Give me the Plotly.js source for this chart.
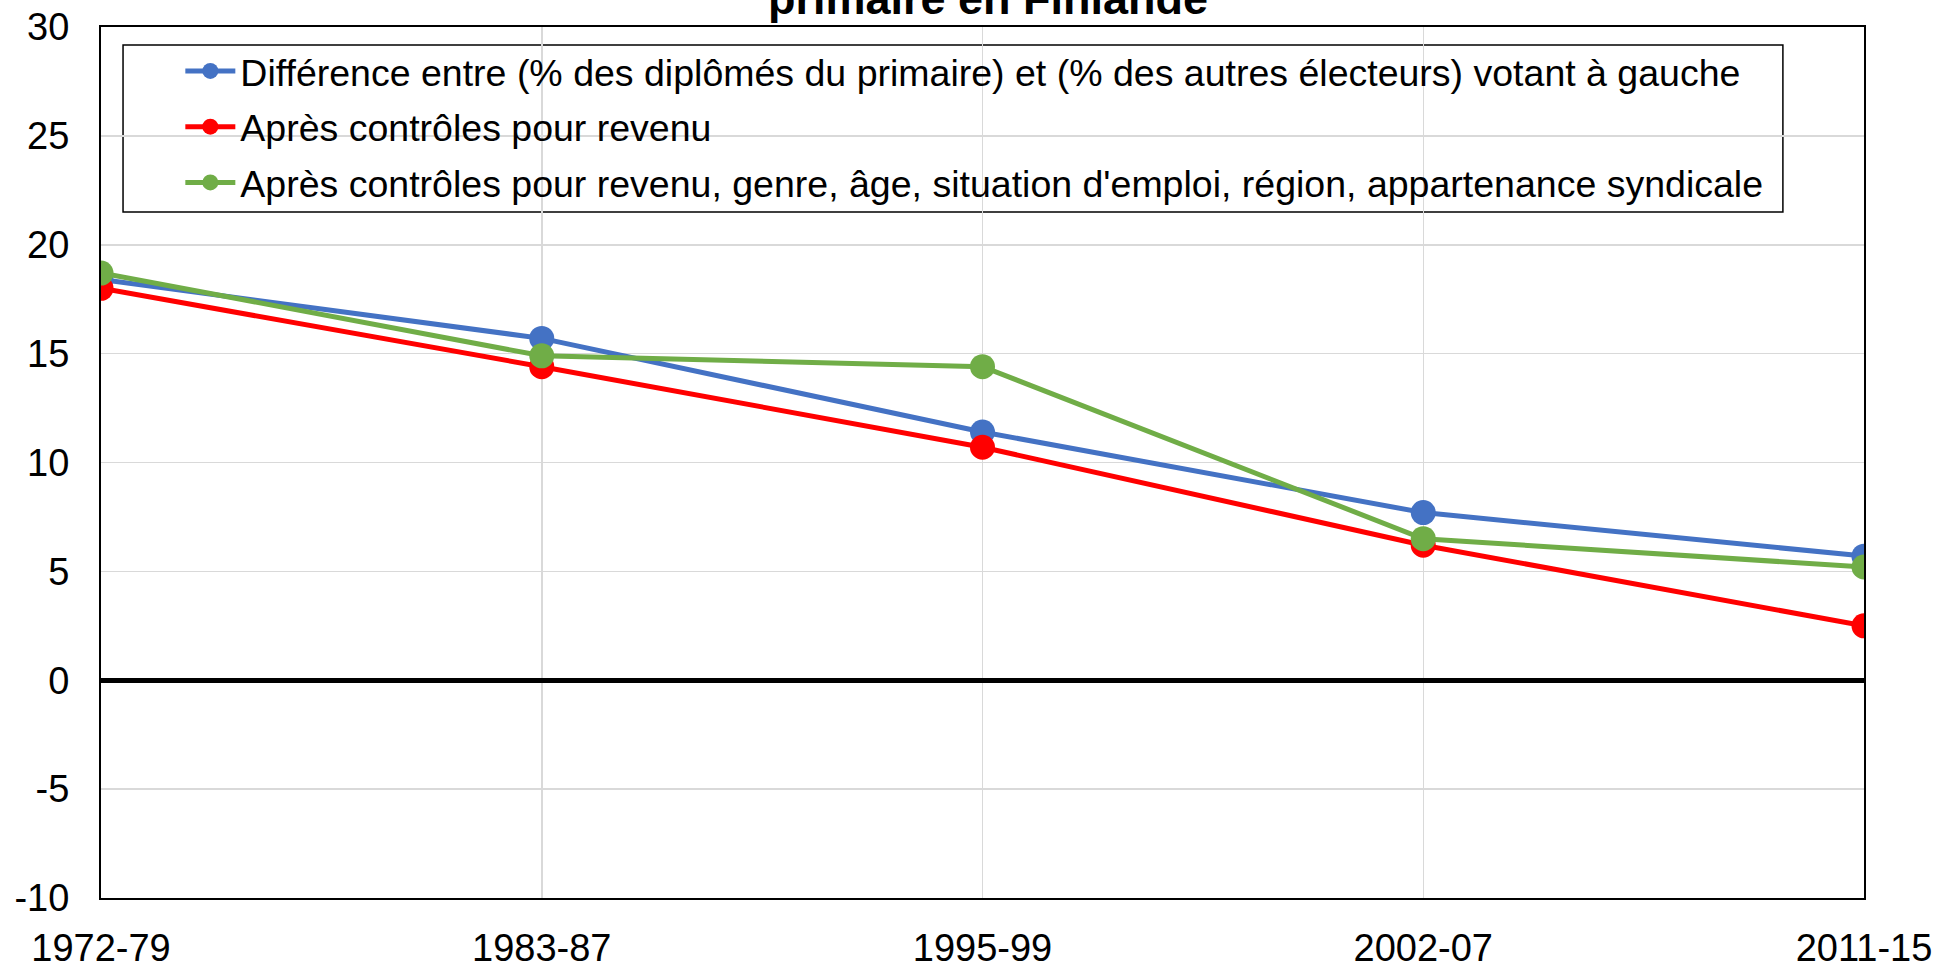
<!DOCTYPE html>
<html>
<head>
<meta charset="utf-8">
<script src="https://cdn.plot.ly/plotly-3.0.1.min.js"></script>
<style>html,body{margin:0;padding:0;background:#fff;}#chart{width:1953px;height:972px;}</style>
</head>
<body>
<div id="chart"></div>
<script>
const periods = ["1972-79", "1983-87", "1995-99", "2002-07", "2011-15"];
const seriesNames = [
  "Différence entre (% des diplômés du primaire) et (% des autres électeurs) votant à gauche",
  "Après contrôles pour revenu",
  "Après contrôles pour revenu, genre, âge, situation d'emploi, région, appartenance syndicale"
];
const diffRaw = [18.4, 15.7, 11.4, 7.7, 5.7];
const ctrlRevenu = [18.0, 14.4, 10.7, 6.2, 2.5];
const ctrlAll = [18.7, 14.9, 14.4, 6.5, 5.2];
const yTickVals = [-10, -5, 0, 5, 10, 15, 20, 25, 30];
const yTickText = ["-10", "-5", "0", "5", "10", "15", "20", "25", "30"];
const colors = ["#4472C4", "#FF0000", "#70AD47"];
const titleText = "primaire en Finlande";

const values = [diffRaw, ctrlRevenu, ctrlAll];
const traces = values.map((v, i) => ({
  type: "scatter",
  mode: "lines+markers",
  x: periods,
  y: v,
  name: seriesNames[i],
  legendgroup: "g" + i,
  line: {color: colors[i], width: 5},
  marker: {color: colors[i], size: 25}
}));

const layout = {
  width: 1953,
  height: 972,
  margin: {l: 101, r: 89, t: 27, b: 74},
  paper_bgcolor: "#fff",
  plot_bgcolor: "#fff",
  font: {family: "Liberation Sans, Arial, sans-serif", color: "#000", size: 38},
  annotations: [{
    text: "<b>" + titleText + "</b>",
    font: {size: 45, family: "Liberation Sans, Arial, sans-serif", color: "#000"},
    xref: "paper", yref: "paper",
    x: 0.503, xanchor: "center",
    y: 1, yanchor: "middle", yshift: 29,
    showarrow: false
  }],
  showlegend: true,
  legend: {
    x: 0.045, xanchor: "left",
    y: 0.985, yanchor: "top",
    bgcolor: "rgba(0,0,0,0)",
    borderwidth: 0,
    font: {size: 37.5, color: "#000"},
    traceorder: "grouped",
    tracegroupgap: 4,
    itemwidth: 50
  },
  shapes: [{
    type: "rect", xref: "paper", yref: "paper",
    x0: 0.0125, x1: 0.954, y0: 0.7876, y1: 0.9793,
    line: {color: "#000", width: 1.5},
    fillcolor: "#fff",
    layer: "below"
  }],
  xaxis: {
    type: "category",
    range: [0, 4],
    showgrid: true,
    gridcolor: "#d9d9d9",
    gridwidth: 1.5,
    showline: true,
    linecolor: "#000",
    linewidth: 2,
    mirror: true,
    ticks: "",
    ticklabelstandoff: 15,
    tickfont: {size: 38}
  },
  yaxis: {
    range: [-10, 30],
    tickmode: "array",
    tickvals: yTickVals,
    ticktext: yTickText,
    showgrid: true,
    gridcolor: "#d9d9d9",
    gridwidth: 1.5,
    zeroline: true,
    zerolinecolor: "#000",
    zerolinewidth: 5,
    showline: true,
    linecolor: "#000",
    linewidth: 2,
    mirror: true,
    ticks: "",
    ticklabelstandoff: 22,
    tickfont: {size: 38}
  }
};

Plotly.newPlot("chart", traces, layout, {displayModeBar: false, staticPlot: true});
</script>
</body>
</html>
